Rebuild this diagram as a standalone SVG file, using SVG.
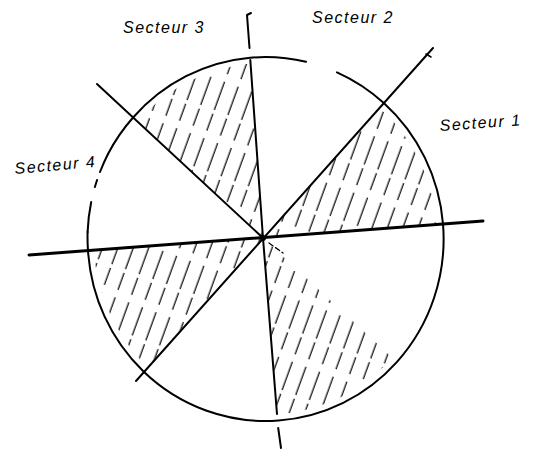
<svg xmlns="http://www.w3.org/2000/svg" width="535" height="450" viewBox="0 0 535 450">
<style>
.ln{stroke:#000;fill:none;stroke-linecap:round}
.circ{stroke:#000;fill:none;stroke-width:2;stroke-linecap:round}
.hatch{fill:url(#hatch);stroke:none}
.lbl{font-family:"Liberation Sans",Arial,sans-serif;font-style:italic;font-size:16px;letter-spacing:1.5px;fill:#000}
</style>
<defs>
<pattern id="hatch" patternUnits="userSpaceOnUse" width="14.5" height="60" patternTransform="rotate(20)">
<line x1="7" y1="0" x2="7" y2="60" stroke="#000" stroke-width="1.2" stroke-dasharray="30 4 18 8"/>
</pattern>
<clipPath id="inner">
<ellipse cx="265.5" cy="239" rx="172" ry="176"/>
</clipPath>
</defs>
<rect width="535" height="450" fill="#fff"/>
<g id="hatching" clip-path="url(#inner)">
<path class="hatch" d="M263,238 L133.1,117.5 A178,182 0 0 1 250.1,57.7 Z"/>
<path class="hatch" d="M263,238 L383.8,103 A178,182 0 0 1 443,224 Z"/>
<path class="hatch" d="M263,238 L143.5,371.5 A178,182 0 0 1 88,250.6 Z"/>
<path class="hatch" d="M263,238 L396.8,362.1 A178,182 0 0 1 278.6,420.5 Z"/>
</g>
<g id="circle">
<path class="circ" d="M108,154 A178,182 0 0 1 133.1,117.5 A178,182 0 0 1 250.1,57.7 A178,182 0 0 1 306,61.8" stroke-width="2.3"/>
<path class="circ" d="M337,72.3 A178,182 0 0 1 383.8,103 A178,182 0 0 1 443,224 A178,182 0 0 1 396.8,362.1 A178,182 0 0 1 278.6,420.5 A178,182 0 0 1 143.5,371.5 A178,182 0 0 1 88,250.6 A178,182 0 0 1 87.6,232"/>
<path class="circ" d="M87.6,232 A178,182 0 0 1 91.2,202" stroke-width="1.5"/>
<path class="circ" d="M94.9,187 A178,182 0 0 1 97.1,180" stroke-width="1.5"/>
<path class="circ" d="M100,172 A178,182 0 0 1 108,154" stroke-width="1.8"/>
</g>
<g id="connectors">
<path class="ln" d="M29,255 L483,221" stroke-width="3"/>
<path class="ln" d="M136,381 L433,48" stroke-width="2"/>
<path class="ln" d="M426,54 L431,57" stroke-width="1.5"/>
<path class="ln" d="M97,84 L263,238" stroke-width="2"/>
<path class="ln" d="M269,243 L283,253" stroke-width="1.3" stroke-dasharray="5 3"/>
<path class="ln" d="M247,15 L249.5,48 M247,15 L251,13" stroke-width="2"/>
<path class="ln" d="M250.3,60 L263,238 L277,414" stroke-width="2"/>
<path class="ln" d="M278.2,428 L281,448" stroke-width="2"/>
<circle cx="263" cy="238" r="3" fill="#000"/>
</g>
<g id="labels">
<text class="lbl" x="123" y="33">Secteur 3</text>
<text class="lbl" x="312" y="23">Secteur 2</text>
<text class="lbl" x="440" y="131" transform="rotate(-4 440 131)">Secteur 1</text>
<text class="lbl" x="15" y="174" transform="rotate(-5 15 174)">Secteur 4</text>
</g>
</svg>
